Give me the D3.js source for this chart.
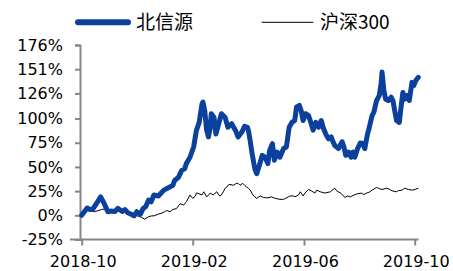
<!DOCTYPE html>
<html><head><meta charset="utf-8">
<script src="https://cdn.jsdelivr.net/npm/d3@7"></script>
<style>body{margin:0;background:#fff}svg{display:block}</style>
</head><body><svg id="c" width="453" height="271"></svg>
<script>
const seriesNames = ["北信源", "沪深300"];
const yTickValues = [-25, 0, 25, 50, 75, 100, 126, 151, 176];
const yTickLabels = ["-25%", "0%", "25%", "50%", "75%", "100%", "126%", "151%", "176%"];
const xTickDates = ["2018-10-08", "2019-02-08", "2019-06-08", "2019-10-08"];
const xTickLabels = ["2018-10", "2019-02", "2019-06", "2019-10"];

const bxsDates = ["2018-10-08","2018-10-14","2018-10-17","2018-10-20","2018-10-25","2018-10-29","2018-11-02","2018-11-06","2018-11-09","2018-11-14","2018-11-17","2018-11-22","2018-11-25","2018-11-28","2018-12-02","2018-12-05","2018-12-08","2018-12-12","2018-12-15","2018-12-18","2018-12-21","2018-12-24","2018-12-27","2019-01-01","2019-01-04","2019-01-07","2019-01-11","2019-01-14","2019-01-17","2019-01-19","2019-01-23","2019-01-27","2019-01-30","2019-02-01","2019-02-05","2019-02-09","2019-02-12","2019-02-15","2019-02-18","2019-02-19","2019-02-21","2019-02-23","2019-02-25","2019-02-27","2019-02-28","2019-03-03","2019-03-05","2019-03-08","2019-03-11","2019-03-15","2019-03-18","2019-03-22","2019-03-26","2019-03-29","2019-04-02","2019-04-05","2019-04-08","2019-04-09","2019-04-11","2019-04-13","2019-04-16","2019-04-18","2019-04-21","2019-04-24","2019-04-27","2019-04-30","2019-05-02","2019-05-05","2019-05-07","2019-05-10","2019-05-13","2019-05-17","2019-05-20","2019-05-23","2019-05-26","2019-05-29","2019-05-31","2019-06-03","2019-06-05","2019-06-07","2019-06-10","2019-06-13","2019-06-16","2019-06-18","2019-06-21","2019-06-24","2019-06-27","2019-06-29","2019-07-02","2019-07-05","2019-07-08","2019-07-10","2019-07-12","2019-07-16","2019-07-20","2019-07-22","2019-07-24","2019-07-27","2019-07-30","2019-08-01","2019-08-03","2019-08-06","2019-08-09","2019-08-12","2019-08-14","2019-08-17","2019-08-19","2019-08-22","2019-08-24","2019-08-27","2019-08-30","2019-09-01","2019-09-02","2019-09-04","2019-09-06","2019-09-09","2019-09-12","2019-09-14","2019-09-16","2019-09-18","2019-09-21","2019-09-23","2019-09-25","2019-09-27","2019-09-30","2019-10-02","2019-10-05","2019-10-07","2019-10-09","2019-10-12"];
const bxsValues = [0,7.5,6,6,13,19,12,3.7,4.4,4,7.2,4,6,2.7,1,-0.7,3.7,1.3,7,9,15.7,14,21,20,23,26,28,29.4,31,36,39,46.6,48,53.5,60,70.6,87.8,96,115,117,108,88,81,91,105,101,84,94.6,105,101,91,94.6,88,81,86,92,91,88,77,64,48,43,52,62,60,53.5,67,74,57,65.4,60,69,70.6,91,96,98,112,113.5,108,98,105,103,94.6,88,96,91,98,91,84,79,81,76,72,69,76,70.6,62,65.4,60,65.4,60,69,74.7,74,69,84,91,103,106.6,118.6,124,136,148,129,120,118.6,122,118.6,108,98,96,112,127,120,124,118.6,137.4,134,139,142.6];

const hs300Dates = ["2018-10-08","2018-10-11","2018-10-15","2018-10-19","2018-10-22","2018-10-26","2018-10-30","2018-11-02","2018-11-04","2018-11-08","2018-11-12","2018-11-15","2018-11-18","2018-11-21","2018-11-25","2018-11-28","2018-12-02","2018-12-06","2018-12-09","2018-12-13","2018-12-17","2018-12-21","2018-12-24","2018-12-28","2019-01-01","2019-01-04","2019-01-08","2019-01-10","2019-01-14","2019-01-17","2019-01-21","2019-01-25","2019-01-29","2019-02-01","2019-02-05","2019-02-08","2019-02-11","2019-02-12","2019-02-14","2019-02-18","2019-02-20","2019-02-23","2019-02-27","2019-03-02","2019-03-06","2019-03-09","2019-03-11","2019-03-13","2019-03-15","2019-03-17","2019-03-18","2019-03-20","2019-03-24","2019-03-27","2019-03-29","2019-03-31","2019-04-03","2019-04-05","2019-04-07","2019-04-09","2019-04-11","2019-04-14","2019-04-16","2019-04-18","2019-04-22","2019-04-25","2019-04-29","2019-05-04","2019-05-08","2019-05-13","2019-05-17","2019-05-22","2019-05-24","2019-05-28","2019-05-29","2019-06-02","2019-06-04","2019-06-07","2019-06-09","2019-06-13","2019-06-16","2019-06-20","2019-06-22","2019-06-26","2019-07-01","2019-07-07","2019-07-09","2019-07-12","2019-07-14","2019-07-19","2019-07-23","2019-07-26","2019-07-29","2019-08-01","2019-08-05","2019-08-10","2019-08-13","2019-08-16","2019-08-19","2019-08-22","2019-08-27","2019-08-30","2019-09-02","2019-09-07","2019-09-10","2019-09-13","2019-09-18","2019-09-20","2019-09-24","2019-09-27","2019-10-01","2019-10-06","2019-10-09","2019-10-12"];
const hs300Values = [0,3.7,7,4.4,3.7,4.7,6,6.5,4.4,2.7,2.7,4.4,5.5,3.7,4.4,2.7,2,0.3,-0.7,-2,-4,-1.4,-0.7,-0.4,1.3,2,3.7,5,3.7,6,7,12,10.6,14,21,17.5,20,23,22.6,21,24.3,19,23,21,24.3,20,21,24.3,28,29.4,31,32,31,33,33,31,33,31,29.4,28,26,21,19,17.5,20,18.5,18,19,17.5,16.5,16.5,19,20,20,19,21,24.3,20,23,26.7,25.3,23,26,24.3,23,24.3,26,28,25.3,22.6,18.5,20,19,20.5,22,23,21.5,23,24,26,28.8,27.5,26.7,28,27,25.3,24.3,25.5,26,28,26.7,26,27,28];

const parse = d3.timeParse("%Y-%m-%d");
const svg = d3.select("#c");

const x = d3.scaleTime()
  .domain(xTickDates.map(parse))
  .range([81.7, 192.7, 304, 414.7]);
const y = d3.scaleLinear().domain([-25, 176]).range([239.5, 45]);

const axisColor = "#868686";
const tickFont = "'DejaVu Sans', Verdana, sans-serif";

// y axis
const yAxis = svg.append("g").attr("transform", "translate(80,0)")
  .call(d3.axisLeft(y).tickValues(yTickValues).tickSize(5).tickPadding(12)
    .tickFormat((d, i) => yTickLabels[i]));
yAxis.select(".domain").attr("stroke", axisColor).attr("stroke-width", 2);
yAxis.selectAll(".tick line").attr("stroke", axisColor).attr("stroke-width", 2);
yAxis.selectAll(".tick text").attr("font-family", tickFont).attr("font-size", 16).attr("fill", "#000");

// x axis
const xAxis = svg.append("g").attr("transform", "translate(0,239.5)")
  .call(d3.axisBottom(x).tickValues(xTickDates.map(parse)).tickSize(6).tickSizeOuter(0).tickPadding(10)
    .tickFormat((d, i) => xTickLabels[i]));
xAxis.select(".domain").remove();
xAxis.insert("line", ":first-child").attr("x1", 70).attr("x2", 418.5).attr("y1", 0).attr("y2", 0)
  .attr("stroke", axisColor).attr("stroke-width", 2);
xAxis.selectAll(".tick line").attr("stroke", axisColor).attr("stroke-width", 2);
xAxis.selectAll(".tick text").attr("font-family", tickFont).attr("font-size", 16).attr("fill", "#000")
  .attr("dx", 1);

const line = d3.line().x(d => x(d[0])).y(d => y(d[1]));

const hsData = hs300Dates.map((d, i) => [parse(d), hs300Values[i]]);
const bxsData = bxsDates.map((d, i) => [parse(d), bxsValues[i]]);

svg.append("path").datum(hsData).attr("d", line)
  .attr("fill", "none").attr("stroke", "#000").attr("stroke-width", 1);
svg.append("path").datum(bxsData).attr("d", line)
  .attr("fill", "none").attr("stroke", "#0b409c").attr("stroke-width", 5)
  .attr("stroke-linejoin", "round").attr("stroke-linecap", "round");

// legend
const lg = svg.append("g");
lg.append("line").attr("x1", 78).attr("x2", 128).attr("y1", 22.3).attr("y2", 22.3)
  .attr("stroke", "#0b409c").attr("stroke-width", 6).attr("stroke-linecap", "round");
lg.append("text").attr("x", 136).attr("y", 22.3).attr("dy", "0.35em")
  .attr("font-family", "'Noto Sans CJK SC', sans-serif").attr("font-size", 19).attr("fill", "#000")
  .text(seriesNames[0]);
lg.append("line").attr("x1", 261.7).attr("x2", 313.3).attr("y1", 22.3).attr("y2", 22.3)
  .attr("stroke", "#000").attr("stroke-width", 1);
lg.append("text").attr("x", 320).attr("y", 22.3).attr("dy", "0.35em")
  .attr("font-family", "'Noto Sans CJK SC', sans-serif").attr("font-size", 19).attr("fill", "#000")
  .text(seriesNames[1]);
</script></body></html>
